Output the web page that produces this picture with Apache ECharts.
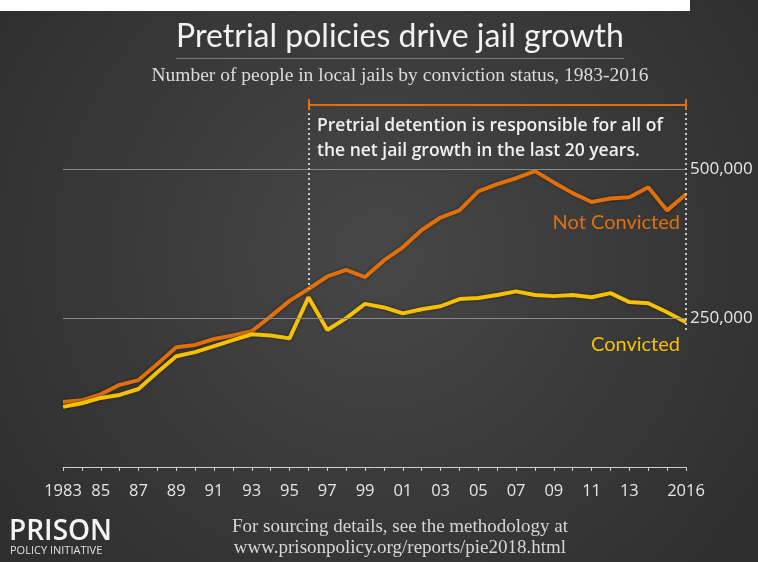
<!DOCTYPE html>
<html>
<head>
<meta charset="utf-8">
<script src="https://cdn.jsdelivr.net/npm/echarts@6/dist/echarts.min.js"></script>
<style>
  html, body { margin: 0; padding: 0; background: #3a3a3a; }
  #chart { width: 758px; height: 562px; }
</style>
</head>
<body>
<div id="chart"></div>
<script>
// years on the x axis
const years = ['1983', '1984', '1985', '1986', '1987', '1988', '1989', '1990', '1991', '1992',
  '1993', '1994', '1995', '1996', '1997', '1998', '1999', '2000', '2001', '2002',
  '2003', '2004', '2005', '2006', '2007', '2008', '2009', '2010', '2011', '2012',
  '2013', '2014', '2015', '2016'];

// people held
const notConvicted = [109000, 112000, 122000, 138000, 146000, 173000, 201000, 205000, 215000, 221000,
  228000, 253000, 279000, 299000, 320000, 331000, 319000, 347000, 369000, 398000,
  419000, 431000, 463000, 475000, 485000, 497000, 478000, 460000, 445000, 451000,
  453000, 470000, 431000, 458000];
const convicted = [101000, 107000, 116000, 121000, 131000, 159000, 186000, 193000, 203000, 213000,
  223000, 221000, 216000, 285000, 230000, 250000, 274000, 268000, 258000, 265000,
  270000, 282000, 284000, 289000, 295000, 289000, 287000, 289000, 285000, 292000,
  277000, 275000, 260000, 243000];

// x tick labels (odd years + last year)
const labeledYears = ['1983', '1985', '1987', '1989', '1991', '1993', '1995', '1997', '1999',
  '2001', '2003', '2005', '2007', '2009', '2011', '2013', '2016'];
const labeledText = ['1983', '85', '87', '89', '91', '93', '95', '97', '99',
  '01', '03', '05', '07', '09', '11', '13', '2016'];

// y tick labels
const yTickValues = [250000, 500000];
const yTickLabels = ['250,000', '500,000'];

// annotation span
const spanStart = '1996';
const spanEnd = '2016';
const bracketLevel = 609000;

const ORANGE = '#e0700c';
const YELLOW = '#f5c100';

const chart = echarts.init(document.getElementById('chart'));

const gridLines = yTickValues.map(v => ({ yAxis: v }));
const dotted = { color: '#c8c8c8', width: 2, type: [2, 3] };
const bracket = { color: ORANGE, width: 2, type: 'solid' };

const option = {
  animation: false,
  backgroundColor: {
    type: 'radial', x: 0.5, y: 0.45, r: 0.8,
    colorStops: [
      { offset: 0, color: '#474747' },
      { offset: 1, color: '#2f2f2f' }
    ]
  },
  grid: { left: 63, right: 72, top: 80, bottom: 95 },
  xAxis: {
    type: 'category',
    data: years,
    boundaryGap: false,
    axisLine: { lineStyle: { color: '#cfcfcf', width: 1 } },
    axisTick: { show: true, interval: 0, length: 4, lineStyle: { color: '#cfcfcf' } },
    axisLabel: {
      interval: (i, v) => labeledYears.indexOf(v) >= 0,
      formatter: v => labeledText[labeledYears.indexOf(v)] || '',
      color: '#e6e6e6',
      fontFamily: 'Open Sans',
      fontSize: 16.5,
      margin: 16
    },
    splitLine: { show: false }
  },
  yAxis: {
    type: 'value',
    position: 'right',
    min: 0,
    max: 650000,
    interval: 250000,
    axisLine: { show: false },
    axisTick: { show: false },
    splitLine: { show: false },
    axisLabel: {
      margin: 4,
      color: '#e6e6e6',
      fontFamily: 'Open Sans',
      fontSize: 17,
      formatter: v => yTickLabels[yTickValues.indexOf(v)] || ''
    }
  },
  series: [
    {
      name: 'Not Convicted',
      type: 'line',
      data: notConvicted,
      symbol: 'none',
      z: 3,
      lineStyle: { color: ORANGE, width: 4, shadowColor: 'rgba(0,0,0,0.5)', shadowBlur: 3 },
      markLine: {
        silent: true,
        symbol: 'none',
        label: { show: false },
        data: [
          // grid lines
          ...gridLines.map(g => Object.assign({ lineStyle: { color: '#8a8a8a', width: 1, type: 'solid' } }, g)),
          // dotted verticals
          [
            { coord: [spanStart, 603000], lineStyle: dotted },
            { coord: [spanStart, notConvicted[years.indexOf(spanStart)]] }
          ],
          [
            { coord: [spanEnd, 603000], lineStyle: dotted },
            { coord: [spanEnd, 230000] }
          ],
          // orange bracket
          [
            { coord: [spanStart, bracketLevel], lineStyle: bracket },
            { coord: [spanEnd, bracketLevel] }
          ],
          [
            { coord: [spanStart, bracketLevel - 9000], lineStyle: bracket },
            { coord: [spanStart, bracketLevel + 9000] }
          ],
          [
            { coord: [spanEnd, bracketLevel - 9000], lineStyle: bracket },
            { coord: [spanEnd, bracketLevel + 9000] }
          ]
        ]
      }
    },
    {
      name: 'Convicted',
      type: 'line',
      data: convicted,
      symbol: 'none',
      z: 4,
      lineStyle: { color: YELLOW, width: 4, shadowColor: 'rgba(0,0,0,0.5)', shadowBlur: 3 }
    }
  ],
  graphic: [
    { type: 'rect', left: 0, top: 0, shape: { width: 690, height: 11 }, style: { fill: '#ffffff' } },
    {
      type: 'text', x: 400, y: 21,
      style: { text: 'Pretrial policies drive jail growth', fill: '#f2f2f2', font: '32px Lato', textAlign: 'center' }
    },
    {
      type: 'rect', left: 176, top: 58, shape: { width: 448, height: 1 }, style: { fill: '#7a7a7a' }
    },
    {
      type: 'text', x: 400, y: 66,
      style: { text: 'Number of people in local jails by conviction status, 1983-2016', fill: '#dcdcdc', font: '19.5px "Liberation Serif"', textAlign: 'center' }
    },
    {
      type: 'text', left: 317, top: 114,
      style: {
        text: 'Pretrial detention is responsible for all of\nthe net jail growth in the last 20 years.',
        fill: '#f0f0f0', font: '600 17.5px "Open Sans"', lineHeight: 25
      }
    },
    {
      type: 'text', right: 78, top: 213,
      style: { text: 'Not Convicted', fill: ORANGE, font: '20px Lato', textAlign: 'right' }
    },
    {
      type: 'text', right: 78, top: 335,
      style: { text: 'Convicted', fill: YELLOW, font: '20px Lato', textAlign: 'right' }
    },
    {
      type: 'text', left: 9, top: 518,
      style: { text: 'PRISON', fill: '#f4f4f4', font: '600 28px "Open Sans"' }
    },
    {
      type: 'text', left: 10, top: 545,
      style: { text: 'POLICY INITIATIVE', fill: '#e0e0e0', font: '11px "Open Sans"' }
    },
    {
      type: 'text', x: 400, y: 517,
      style: {
        text: 'For sourcing details, see the methodology at\nwww.prisonpolicy.org/reports/pie2018.html',
        fill: '#d6d6d6', font: '19px "Liberation Serif"', lineHeight: 21, textAlign: 'center'
      }
    }
  ]
};

chart.setOption(option);
</script>
</body>
</html>
